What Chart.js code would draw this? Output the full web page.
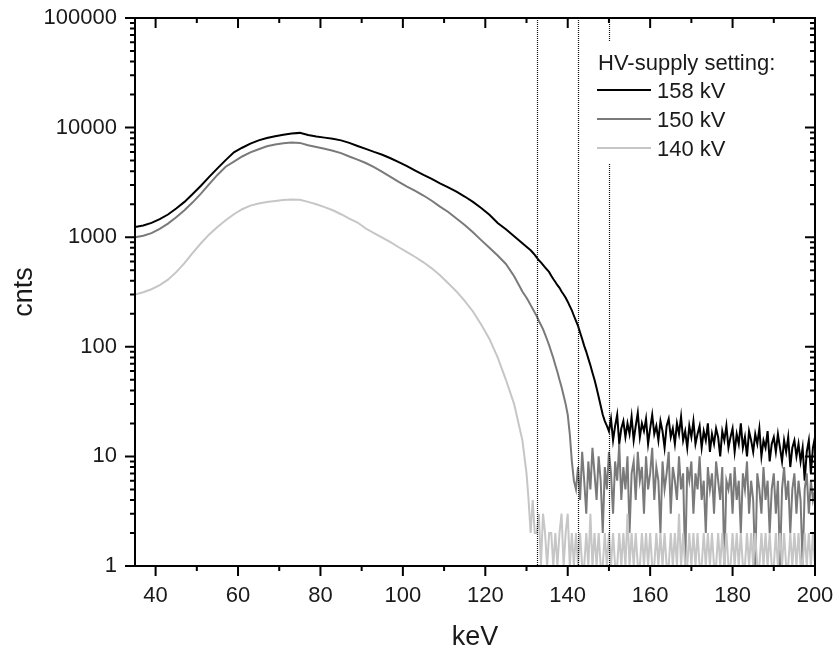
<!DOCTYPE html>
<html>
<head>
<meta charset="utf-8">
<script src="https://cdn.jsdelivr.net/npm/chart.js@4.4.0/dist/chart.umd.min.js"></script>
<style>
  html, body { margin: 0; padding: 0; background: #fff; }
</style>
</head>
<body>
<canvas id="spectrum" width="837" height="648"></canvas>
<script>
// energy bins (keV): coarse on the smooth part, fine on the noisy tail
var keV = [
  35, 37, 39, 41, 43, 45, 47, 49, 51, 53,
  55, 57, 59, 61, 63, 65, 67, 69, 71, 73,
  75, 77, 79, 81, 83, 85, 87, 89, 91, 93,
  95, 97, 99, 101, 103, 105, 107, 109, 111, 113,
  115, 117, 119, 121, 123, 125, 127, 129,
  130, 130.5, 131, 131.5, 132, 132.5, 133, 133.5, 134, 134.5,
  135, 135.5, 136, 136.5, 137, 137.5, 138, 138.5, 139, 139.5,
  140, 140.5, 141, 141.5, 142, 142.5, 143, 143.5, 144, 144.5,
  145, 145.5, 146, 146.5, 147, 147.5, 148, 148.5, 149, 149.5,
  150, 150.5, 151, 151.5, 152, 152.5, 153, 153.5, 154, 154.5,
  155, 155.5, 156, 156.5, 157, 157.5, 158, 158.5, 159, 159.5,
  160, 160.5, 161, 161.5, 162, 162.5, 163, 163.5, 164, 164.5,
  165, 165.5, 166, 166.5, 167, 167.5, 168, 168.5, 169, 169.5,
  170, 170.5, 171, 171.5, 172, 172.5, 173, 173.5, 174, 174.5,
  175, 175.5, 176, 176.5, 177, 177.5, 178, 178.5, 179, 179.5,
  180, 180.5, 181, 181.5, 182, 182.5, 183, 183.5, 184, 184.5,
  185, 185.5, 186, 186.5, 187, 187.5, 188, 188.5, 189, 189.5,
  190, 190.5, 191, 191.5, 192, 192.5, 193, 193.5, 194, 194.5,
  195, 195.5, 196, 196.5, 197, 197.5, 198, 198.5, 199, 199.5,
  200
];

var cnts158 = [
  1240, 1280, 1350, 1460, 1610, 1830, 2100, 2480, 2950, 3550,
  4250, 5050, 5950, 6550, 7150, 7650, 8050, 8350, 8600, 8850,
  8950, 8550, 8300, 8100, 7900, 7650, 7250, 6800, 6400, 6000,
  5650, 5250, 4850, 4450, 4050, 3700, 3400, 3100, 2850, 2600,
  2350, 2100, 1850, 1600, 1350, 1180, 1020, 880,
  820, 790, 760, 725, 690, 650, 615, 590, 560, 530,
  505, 480, 445, 415, 390, 365, 345, 320, 300, 280,
  258, 235, 215, 192, 172, 155, 135, 118, 102, 90,
  78, 68, 58, 50, 42, 35, 29, 24, 21, 19,
  17, 22, 14, 19, 24, 13, 18, 21, 15, 20,
  16, 23, 14, 19, 25, 15, 20, 17, 22, 13,
  18, 24, 16, 19, 14, 21, 17, 12, 19, 22,
  15, 18, 13, 20, 16, 23, 14, 17, 12, 19,
  15, 21, 13, 16, 19, 12, 17, 14, 20, 11,
  16, 13, 18, 15, 10, 17, 14, 19, 12, 15,
  18, 11, 16, 13, 20, 12, 15, 10, 17, 14,
  11, 16, 13, 18, 10, 14, 12, 17, 9, 13,
  15, 11, 16, 12, 9, 14, 11, 15, 8, 12,
  14, 10, 13, 9, 12, 6, 11, 14, 7, 12,
  15
];

var cnts150 = [
  1000, 1030, 1090, 1190, 1330, 1520, 1760, 2080, 2500, 3050,
  3700, 4400, 4900, 5450, 5950, 6350, 6750, 7000, 7200, 7300,
  7250, 6900, 6650, 6400, 6150, 5850, 5450, 5100, 4750, 4350,
  3950, 3550, 3200, 2900, 2650, 2400, 2150, 1900, 1700, 1480,
  1290, 1110, 940, 800, 680, 570, 440, 320,
  280, 260, 240, 222, 205, 190, 172, 158, 145, 130,
  116, 103, 90, 79, 68, 59, 50, 43, 36, 30,
  24, 16, 9, 6, 5, 8, 4, 11, 6, 3,
  9, 5, 12, 7, 4, 10, 6, 2, 8, 5,
  11, 7, 3, 9, 6, 13, 4, 8, 5, 10,
  2, 7, 9, 4, 11, 6, 8, 3, 10, 5,
  7, 12, 4, 8, 6, 2, 9, 5, 7, 11,
  3, 8, 6, 4, 10, 5, 7, 1, 8, 6,
  9, 3, 7, 5, 10, 4, 6, 2, 8, 5,
  7, 3, 9, 6, 4, 8, 1, 6, 5, 7,
  3, 8, 4, 6, 2, 7, 5, 9, 3, 6,
  4, 1, 7, 5, 3, 8, 4, 6, 2, 5,
  7, 3, 6, 1, 5, 8, 4, 6, 2, 5,
  7, 3, 6, 4, 1, 5, 7, 3, 6, 4,
  5
];

var cnts140 = [
  300, 315, 335, 365, 410, 480, 580, 720, 880, 1060,
  1240, 1430, 1620, 1800, 1940, 2030, 2090, 2140, 2180, 2210,
  2200, 2100, 2000, 1880, 1760, 1620, 1480, 1360, 1200, 1090,
  990, 900, 810, 730, 660, 590, 520, 450, 380, 320,
  262, 210, 160, 118, 80, 50, 30, 14,
  7, 4, 2, 4, 2, 2, 3, 1, 3, 2,
  1, 2, 2, 1, 2, 1, 2, 3, 1, 2,
  3, 1, 2, 1, 2, 1, 2, 1, 1, 2,
  1, 3, 1, 2, 1, 2, 1, 1, 2, 1,
  2, 1, 2, 1, 1, 2, 1, 2, 1, 3,
  1, 2, 1, 2, 1, 1, 2, 1, 2, 1,
  2, 1, 1, 2, 1, 2, 1, 2, 1, 1,
  2, 1, 2, 1, 3, 1, 2, 1, 1, 2,
  1, 2, 1, 2, 1, 1, 2, 1, 2, 1,
  2, 1, 1, 2, 1, 2, 1, 2, 1, 1,
  2, 1, 2, 1, 2, 1, 1, 2, 1, 2,
  1, 2, 1, 1, 2, 1, 2, 1, 2, 1,
  1, 2, 1, 2, 1, 2, 1, 1, 2, 1,
  2, 1, 2, 1, 1, 2, 1, 2, 1, 2,
  1
];

// dotted markers (keV)
var markerKeV = [132.5, 142.4, 150.1];

var seriesNames = ['158 kV', '150 kV', '140 kV'];
var seriesColors = ['#000000', '#7a7a7a', '#c6c6c6'];

var xTicks = [40, 50, 60, 70, 80, 90, 100, 110, 120, 130, 140, 150, 160, 170, 180, 190, 200];
var xLabels = [40, 60, 80, 100, 120, 140, 160, 180, 200];
var yTicks = [
  1, 2, 3, 4, 5, 6, 7, 8, 9,
  10, 20, 30, 40, 50, 60, 70, 80, 90,
  100, 200, 300, 400, 500, 600, 700, 800, 900,
  1000, 2000, 3000, 4000, 5000, 6000, 7000, 8000, 9000,
  10000, 20000, 30000, 40000, 50000, 60000, 70000, 80000, 90000,
  100000
];
var yLabels = [1, 10, 100, 1000, 10000, 100000];

var FONT = '"Liberation Sans", Arial, sans-serif';
var TEXT = '#1a1a1a';

function toPoints(values) {
    return values.map(function (v, i) { return { x: keV[i], y: v }; });
}

// ticks, frame, markers and legend drawn on top of the chart
var decorations = {
    id: 'decorations',
    afterDatasetsDraw: function (chart) {
        var ctx = chart.ctx;
        var area = chart.chartArea;
        var xs = chart.scales.x;
        ctx.save();
        ctx.strokeStyle = '#111';
        ctx.lineWidth = 1.2;
        ctx.setLineDash([1, 1]);
        markerKeV.forEach(function (e) {
            var px = Math.round(xs.getPixelForValue(e)) + 0.5;
            ctx.beginPath();
            ctx.moveTo(px, area.top);
            ctx.lineTo(px, area.bottom);
            ctx.stroke();
        });
        ctx.restore();
    },
    afterDraw: function (chart) {
        var ctx = chart.ctx;
        var area = chart.chartArea;
        var xs = chart.scales.x;
        var ys = chart.scales.y;
        ctx.save();

        // legend
        ctx.fillStyle = '#fff';
        ctx.fillRect(588, 42, 215, 122);
        ctx.fillStyle = TEXT;
        ctx.font = '22px ' + FONT;
        ctx.textAlign = 'left';
        ctx.textBaseline = 'alphabetic';
        ctx.fillText('HV-supply setting:', 598, 70);
        seriesNames.forEach(function (name, i) {
            var yLine = 90 + i * 29;
            ctx.strokeStyle = seriesColors[i];
            ctx.lineWidth = 2;
            ctx.beginPath();
            ctx.moveTo(597, yLine);
            ctx.lineTo(651, yLine);
            ctx.stroke();
            ctx.fillStyle = TEXT;
            ctx.fillText(name, 657, yLine + 8);
        });

        // frame
        ctx.strokeStyle = '#000';
        ctx.lineWidth = 2;
        ctx.strokeRect(area.left, area.top, area.right - area.left, area.bottom - area.top);

        // tick marks: out on bottom/left, in on top/right
        ctx.lineWidth = 2;
        ctx.beginPath();
        xTicks.forEach(function (v) {
            var px = xs.getPixelForValue(v);
            var len = xLabels.indexOf(v) >= 0 ? 10 : 5;
            ctx.moveTo(px, area.bottom);
            ctx.lineTo(px, area.bottom + len);
            ctx.moveTo(px, area.top);
            ctx.lineTo(px, area.top + len);
        });
        yTicks.forEach(function (v) {
            var py = ys.getPixelForValue(v);
            var len = yLabels.indexOf(v) >= 0 ? 10 : 5;
            ctx.moveTo(area.left, py);
            ctx.lineTo(area.left - len, py);
            ctx.moveTo(area.right, py);
            ctx.lineTo(area.right - len, py);
        });
        ctx.stroke();

        // axis titles
        ctx.fillStyle = TEXT;
        ctx.font = '27px ' + FONT;
        ctx.textAlign = 'center';
        ctx.textBaseline = 'alphabetic';
        ctx.fillText('keV', (area.left + area.right) / 2, 645);
        ctx.translate(32, (area.top + area.bottom) / 2);
        ctx.rotate(-Math.PI / 2);
        ctx.fillText('cnts', 0, 0);
        ctx.restore();
    }
};

var datasets = seriesNames.map(function (name, i) {
    return {
        label: name,
        data: toPoints([cnts158, cnts150, cnts140][i]),
        borderColor: seriesColors[i],
        borderWidth: 2,
        pointRadius: 0,
        tension: 0,
        order: 3 - i
    };
});

new Chart(document.getElementById('spectrum'), {
    type: 'line',
    data: { datasets: datasets },
    options: {
        responsive: false,
        animation: false,
        layout: { padding: { top: 18, right: 22, left: 0, bottom: 0 } },
        plugins: {
            legend: { display: false },
            tooltip: { enabled: false }
        },
        scales: {
            x: {
                type: 'linear',
                min: 35,
                max: 200,
                afterBuildTicks: function (s) {
                    s.ticks = xTicks.map(function (v) { return { value: v }; });
                },
                afterFit: function (s) {
                    s.height = 82;
                    s.paddingLeft = 0;
                    s.paddingRight = 0;
                },
                grid: { display: false, drawTicks: false },
                border: { display: false },
                ticks: {
                    autoSkip: false,
                    maxRotation: 0,
                    padding: 17,
                    color: TEXT,
                    font: { size: 22, family: FONT },
                    callback: function (v) { return xLabels.indexOf(v) >= 0 ? String(v) : ''; }
                }
            },
            y: {
                type: 'logarithmic',
                min: 1,
                max: 100000,
                afterBuildTicks: function (s) {
                    s.ticks = yTicks.map(function (v) { return { value: v }; });
                },
                afterFit: function (s) {
                    s.width = 135;
                    s.paddingTop = 0;
                    s.paddingBottom = 0;
                },
                grid: { display: false, drawTicks: false },
                border: { display: false },
                ticks: {
                    autoSkip: false,
                    padding: 18,
                    color: TEXT,
                    font: { size: 22, family: FONT },
                    callback: function (v) { return yLabels.indexOf(v) >= 0 ? String(v) : ''; }
                }
            }
        }
    },
    plugins: [decorations]
});
</script>
</body>
</html>
